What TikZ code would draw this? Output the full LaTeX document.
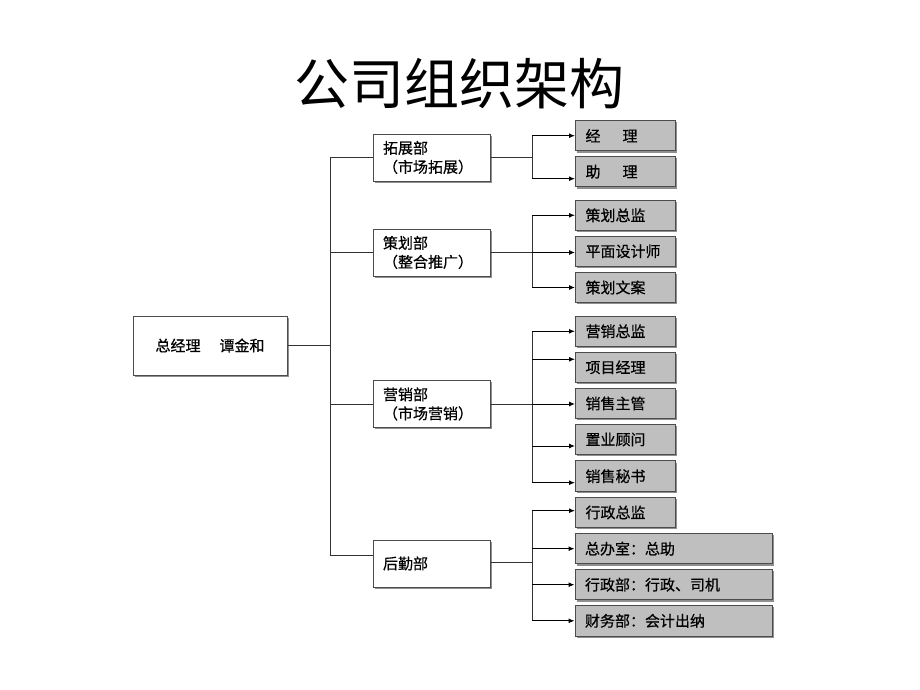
\documentclass[tikz,border=0pt]{standalone}
\usepackage{fontspec}
\setmainfont{Noto Sans CJK SC}
\newfontfamily\boxfont[FakeBold=0.6]{Noto Sans CJK SC}
\usetikzlibrary{arrows.meta,shadows}
\tikzset{
  box/.style={draw=black!70, line width=1pt, rectangle, inner xsep=10pt, inner ysep=0pt,
    align=left, font=\boxfont\fontsize{15pt}{19pt}\selectfont,
    drop shadow={shadow xshift=1.6pt, shadow yshift=-1.6pt, fill=black!55, opacity=0.8}},
  gmbox/.style={box, fill=white, minimum width=154pt, minimum height=59pt, align=center, text width=134pt},
  deptbox/.style={box, fill=white, minimum width=117pt, minimum height=47pt, text width=97pt},
  leafbox/.style={box, fill=black!25, minimum width=100pt, minimum height=30.5pt, text width=80pt},
  widebox/.style={box, fill=black!25, minimum width=197pt, minimum height=30.5pt, text width=177pt},
  conn/.style={draw=black!80, line width=1pt},
  arr/.style={conn, draw=black, -{Latex[length=6pt,width=5pt]}}
}
\begin{document}
\begin{tikzpicture}[x=1pt,y=-1pt]
\useasboundingbox (0,0) rectangle (920,690);
\node (title) at (459,84) {\fontsize{55pt}{60pt}\selectfont 公司组织架构};

\node[gmbox] (gm) at (210,345.5) {总经理\hspace{19pt}谭金和};

\node[deptbox] (d1) at (431.5,157.5) {拓展部\\（市场拓展）};
\node[deptbox] (d2) at (431.5,252.5) {策划部\\（整合推广）};
\node[deptbox] (d3) at (431.5,404) {营销部\\（市场营销）};
\node[deptbox] (d4) at (431.5,563.5) {后勤部};

\node[leafbox] (l1) at (625.5,135.7) {经\hspace{22pt}理};
\node[leafbox] (l2) at (625.5,171.7) {助\hspace{22pt}理};
\node[leafbox] (l3) at (625.5,215.3) {策划总监};
\node[leafbox] (l4) at (625.5,251.3) {平面设计师};
\node[leafbox] (l5) at (625.5,287.5) {策划文案};
\node[leafbox] (l6) at (625.5,331.3) {营销总监};
\node[leafbox] (l7) at (625.5,367.3) {项目经理};
\node[leafbox] (l8) at (625.5,403.5) {销售主管};
\node[leafbox] (l9) at (625.5,439.5) {置业顾问};
\node[leafbox] (l10) at (625.5,476.2) {销售秘书};
\node[leafbox] (l11) at (625.5,512.5) {行政总监};
\node[widebox] (l12) at (673.5,548.7) {总办室：总助};
\node[widebox] (l13) at (673.5,584.7) {行政部：行政、司机};
\node[widebox] (l14) at (673.5,620.8) {财务部：会计出纳};

% main trunk
\coordinate (t0) at (330,0);
\coordinate (d4in) at ([yshift=8pt]d4.west);
\draw[conn] (gm.east) -- (gm.east -| t0);
\draw[conn] (t0 |- d1.west) -- (t0 |- d4in);
\draw[conn] (t0 |- d1.west) -- (d1.west);
\draw[conn] (t0 |- d2.west) -- (d2.west);
\draw[conn] (t0 |- d3.west) -- (d3.west);
\draw[conn] (t0 |- d4in) -- (d4in);

% second-level trunks
\coordinate (t1) at (532,0);
\coordinate (a2) at ([yshift=-7pt]l2.west);
\coordinate (a7) at ([yshift=8pt]l7.west);
\coordinate (a9) at ([yshift=-6.5pt]l9.west);
\coordinate (a10) at ([yshift=-6.5pt]l10.west);
\coordinate (a11) at ([yshift=1.8pt]l11.west);
\coordinate (d4out) at ([yshift=1.5pt]d4.east);

\draw[conn] (d1.east) -- (d1.east -| t1);
\draw[conn] (t1 |- l1.west) -- (t1 |- a2);
\draw[arr] (t1 |- l1.west) -- (l1.west);
\draw[arr] (t1 |- a2) -- (a2);

\draw[conn] (d2.east) -- (d2.east -| t1);
\draw[conn] (t1 |- l3.west) -- (t1 |- l5.west);
\draw[arr] (t1 |- l3.west) -- (l3.west);
\draw[arr] (d2.east -| t1) -- (d2.east -| l4.west);
\draw[arr] (t1 |- l5.west) -- (l5.west);

\draw[conn] (d3.east) -- (d3.east -| t1);
\draw[conn] (t1 |- l6.west) -- (t1 |- a10);
\draw[arr] (t1 |- l6.west) -- (l6.west);
\draw[arr] (t1 |- a7) -- (a7);
\draw[arr] (d3.east -| t1) -- (d3.east -| l8.west);
\draw[arr] (t1 |- a9) -- (a9);
\draw[arr] (t1 |- a10) -- (a10);

\draw[conn] (d4out) -- (d4out -| t1);
\draw[conn] (t1 |- a11) -- (t1 |- l14.west);
\draw[arr] (t1 |- a11) -- (a11);
\draw[arr] (t1 |- l12.west) -- (l12.west);
\draw[arr] (t1 |- l13.west) -- (l13.west);
\draw[arr] (t1 |- l14.west) -- (l14.west);
\end{tikzpicture}
\end{document}
